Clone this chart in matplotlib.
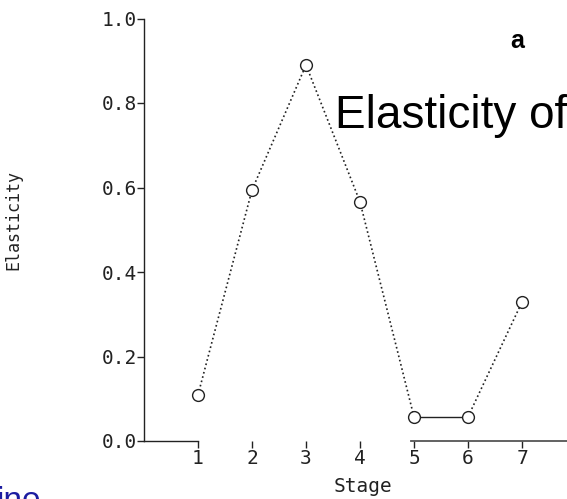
import matplotlib
matplotlib.use('Agg')
import matplotlib.pyplot as plt

# values
stages = [1, 2, 3, 4, 5, 6, 7]
elasticity = [0.109, 0.594, 0.890, 0.566, 0.057, 0.057, 0.329]
yticks = [0.0, 0.2, 0.4, 0.6, 0.8, 1.0]
ytick_labels = ['0.0', '0.2', '0.4', '0.6', '0.8', '1.0']

W, H = 567, 499
fig = plt.figure(figsize=(W / 100, H / 100), dpi=100)
ax = fig.add_axes([144 / W, (H - 441) / H, (W - 144) / W, (441 - 18.5) / H])

ink = '#222222'
mono = 'DejaVu Sans Mono'
# dotted segments, solid between stage 5 and 6
ax.plot(stages[:5], elasticity[:5], linestyle=':', color=ink, lw=1.2)
ax.plot(stages[4:6], elasticity[4:6], linestyle='-', color=ink, lw=1.0)
ax.plot(stages[5:], elasticity[5:], linestyle=':', color=ink, lw=1.2)
ax.plot(stages, elasticity, linestyle='none', marker='o', mfc='w', mec=ink,
        markersize=8.5, mew=1.0, zorder=3)

ax.set_xlim(0, (W - 144) / 54)
ax.set_ylim(0, 1.0)

for s in ['top', 'right', 'bottom']:
    ax.spines[s].set_visible(False)
ax.spines['left'].set_linewidth(1.0)
ax.spines['left'].set_color(ink)

# broken x axis line as in the scan
ax.plot([0, 1], [0, 0], color=ink, lw=1.0, clip_on=False)
ax.plot([4.95, ax.get_xlim()[1]], [0, 0], color='#555555', lw=1.3, clip_on=False)

ax.set_yticks(yticks)
ax.set_yticklabels(ytick_labels, family=mono)
ax.set_xticks(stages)
ax.set_xticklabels([str(s) for s in stages], family=mono)
ax.tick_params(axis='y', direction='out', length=5, width=1, colors=ink,
               labelsize=14, pad=0)
ax.tick_params(axis='x', direction='out', length=5, width=1, colors=ink,
               labelsize=14, pad=1)

ax.set_ylabel('Elasticity', fontsize=12, color=ink, family=mono)
ax.yaxis.set_label_coords(-(144 - 22) / (W - 144), (441 - 220) / (441 - 18.5))
ax.set_xlabel('Stage', fontsize=14, color=ink, family=mono)
ax.xaxis.set_label_coords((363 - 144) / (W - 144), -0.085)

# overlay texts
fig.text(517 / W, 1 - 41 / H, 'a', fontsize=18, fontweight='bold',
         family='Liberation Sans', ha='center', va='center')
fig.text(335 / W, 1 - 128 / H, 'Elasticity of', fontsize=33,
         family='Liberation Sans', ha='left', va='baseline', color='black')
fig.text(-3 / W, 1 - 510 / H, 'ine', fontsize=24, family='Liberation Sans',
         ha='left', va='baseline', color='#1c1ca0')

fig.savefig('out.png', dpi=100)
